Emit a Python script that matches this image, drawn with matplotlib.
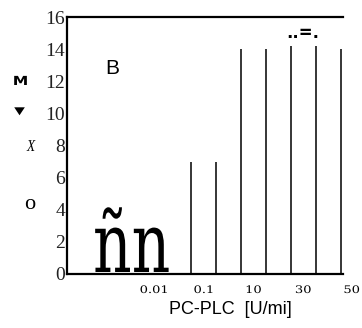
import matplotlib
matplotlib.use("Agg")
import numpy as np
import matplotlib.pyplot as plt
from matplotlib.patheffects import AbstractPathEffect
from matplotlib.transforms import Affine2D

# ---- data ----
bar_positions = [5, 6, 7, 8, 9, 10, 11]
bar_values = [7, 7, 14, 14, 14.2, 14.2, 14]
x_tick_positions = [3.5, 5.5, 7.5, 9.5, 11.45]
x_tick_labels = ["0.01", "0.1", "10", "30", "50"]
y_ticks = [0, 2, 4, 6, 8, 10, 12, 14, 16]
x_label = "PC-PLC  [U/mi]"
panel_letter = "B"
marker_text = "..=."
big_text = "ñn"


class Stretch(AbstractPathEffect):
    """Non-uniform scaling of a text's glyphs (text stays a Text artist)."""

    def __init__(self, sx=1.0, sy=1.0, anchor="left"):
        super().__init__()
        self.sx, self.sy, self.anchor = sx, sy, anchor

    def draw_path(self, renderer, gc, tpath, affine, rgbFace=None):
        cx = 0.0
        if self.anchor == "center":
            ext = tpath.get_extents()
            cx = (ext.x0 + ext.x1) / 2.0
        t = Affine2D().translate(-cx, 0).scale(self.sx, self.sy).translate(cx, 0) + affine
        renderer.draw_path(gc, tpath, t, rgbFace)


W, H = 362, 328
fig = plt.figure(figsize=(W / 100, H / 100), dpi=100)
ax = fig.add_axes([67 / W, 1 - 274 / H, (343 - 67) / W, (274 - 17.3) / H])

ax.vlines(bar_positions, 0, bar_values, colors="black", linewidth=1.1)

ax.set_xlim(0, 11.1)
ax.set_ylim(0, 16)
ax.set_xticks([])
ax.set_yticks(y_ticks)
ax.tick_params(axis="y", length=0, pad=1.5, labelsize=14,
               labelfontfamily="Liberation Serif", labelcolor="#222222")

for side in ["left", "top", "bottom"]:
    ax.spines[side].set_linewidth(1.6)
    ax.spines[side].set_color("black")
ax.spines["right"].set_visible(False)

# x tick labels (placed as text under the categories)
for xp, lab in zip(x_tick_positions, x_tick_labels):
    ax.text(xp, -0.074, lab, transform=ax.get_xaxis_transform(),
            ha="center", va="baseline", fontsize=7.5, family="DejaVu Serif",
            clip_on=False, path_effects=[Stretch(1.25, 1.0, "center")])

ax.set_xlabel(x_label, fontsize=13, family="Liberation Sans", ha="center", va="baseline")
ax.xaxis.set_label_coords(0.592, -0.156)

# panel letter
ax.text(1.54, 12.47, panel_letter, ha="left", va="baseline", fontsize=15,
        family="Liberation Sans")
# small marker text above the tall lines
ax.text(9.5, 15.0, marker_text, ha="center", va="center", fontsize=12,
        family="DejaVu Sans", fontweight="bold")

# large glyphs near the origin
fig.text(93 / W, 1 - 272 / H, big_text, ha="left", va="baseline", fontsize=60,
         family="DejaVu Serif", path_effects=[Stretch(0.72, 1.0, "left")])

# garbled left-side labels
fig.text(20.5 / W, 1 - 85 / H, "M", ha="center", va="baseline", fontsize=9,
         family="DejaVu Sans", fontweight="bold", path_effects=[Stretch(1.25, 1.0, "center")])
fig.text(19.5 / W, 1 - 114 / H, "▼", ha="center", va="baseline", fontsize=10,
         family="DejaVu Sans", path_effects=[Stretch(1.0, 0.75, "center")])
fig.text(31 / W, 1 - 151 / H, "X", ha="center", va="baseline", fontsize=12,
         family="Liberation Serif", style="italic", path_effects=[Stretch(0.8, 1.0, "center")])
fig.text(29.5 / W, 1 - 209 / H, "o", ha="center", va="baseline", fontsize=16,
         family="Liberation Serif")

fig.savefig("out.png", dpi=100)
